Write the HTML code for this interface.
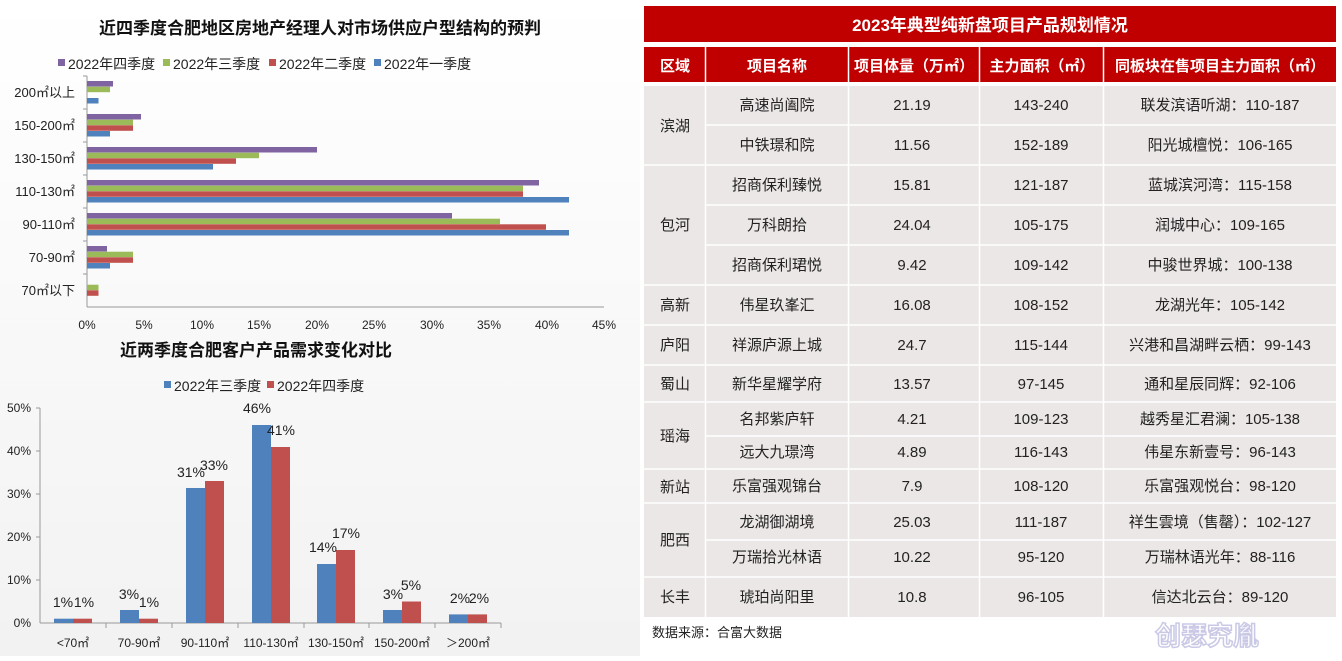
<!DOCTYPE html>
<html><head><meta charset="utf-8"><style>
body{margin:0;width:1342px;height:656px;background:#fff;overflow:hidden;font-family:"Liberation Sans","Noto Sans CJK SC",sans-serif;}
svg text{font-family:"Liberation Sans","Noto Sans CJK SC",sans-serif;}
</style></head><body>
<svg width="1342" height="656" viewBox="0 0 1342 656" xmlns="http://www.w3.org/2000/svg">
<defs><linearGradient id="bg" x1="0" y1="0" x2="0" y2="1"><stop offset="0" stop-color="#ffffff"/><stop offset="1" stop-color="#f2f2f2"/></linearGradient></defs>
<rect x="0" y="0" width="640" height="656" fill="url(#bg)"/>
<text x="320" y="34" text-anchor="middle" font-size="17" font-weight="bold" fill="#111">近四季度合肥地区房地产经理人对市场供应户型结构的预判</text>
<g font-size="14" fill="#222">
<rect x="58" y="59" width="7" height="7" fill="#8064a2"/><text x="68" y="69">2022年四季度</text>
<rect x="163" y="59" width="7" height="7" fill="#9bbb59"/><text x="173" y="69">2022年三季度</text>
<rect x="269" y="59" width="7" height="7" fill="#c0504d"/><text x="279" y="69">2022年二季度</text>
<rect x="374" y="59" width="7" height="7" fill="#4f81bd"/><text x="384" y="69">2022年一季度</text>
</g>
<line x1="87" y1="76" x2="87" y2="307" stroke="#999"/>
<line x1="87" y1="307" x2="604" y2="307" stroke="#999"/>
<g stroke="#999">
<line x1="83" y1="76" x2="87" y2="76"/><line x1="83" y1="109" x2="87" y2="109"/><line x1="83" y1="142" x2="87" y2="142"/><line x1="83" y1="175" x2="87" y2="175"/><line x1="83" y1="208" x2="87" y2="208"/><line x1="83" y1="241" x2="87" y2="241"/><line x1="83" y1="274" x2="87" y2="274"/>
</g>
<g font-size="13" fill="#222" text-anchor="end">
<text x="75" y="97">200㎡以上</text><text x="75" y="130">150-200㎡</text><text x="75" y="163">130-150㎡</text><text x="75" y="196">110-130㎡</text><text x="75" y="229">90-110㎡</text><text x="75" y="262">70-90㎡</text><text x="75" y="295">70㎡以下</text>
</g>
<g font-size="12" fill="#222" text-anchor="middle">
<text x="87" y="329">0%</text><text x="144" y="329">5%</text><text x="202" y="329">10%</text><text x="259" y="329">15%</text><text x="317" y="329">20%</text><text x="374" y="329">25%</text><text x="432" y="329">30%</text><text x="489" y="329">35%</text><text x="547" y="329">40%</text><text x="604" y="329">45%</text>
</g>
<g>
<rect x="87" y="81" width="26" height="5.5" fill="#8064a2"/><rect x="87" y="86.7" width="23" height="5.5" fill="#9bbb59"/><rect x="87" y="98" width="11.5" height="5.5" fill="#4f81bd"/>
<rect x="87" y="114" width="54" height="5.5" fill="#8064a2"/><rect x="87" y="119.7" width="46" height="5.5" fill="#9bbb59"/><rect x="87" y="125.3" width="46" height="5.5" fill="#c0504d"/><rect x="87" y="131" width="23" height="5.5" fill="#4f81bd"/>
<rect x="87" y="147" width="230" height="5.5" fill="#8064a2"/><rect x="87" y="152.7" width="172" height="5.5" fill="#9bbb59"/><rect x="87" y="158.3" width="149" height="5.5" fill="#c0504d"/><rect x="87" y="164" width="126" height="5.5" fill="#4f81bd"/>
<rect x="87" y="180" width="452" height="5.5" fill="#8064a2"/><rect x="87" y="185.7" width="436" height="5.5" fill="#9bbb59"/><rect x="87" y="191.3" width="436" height="5.5" fill="#c0504d"/><rect x="87" y="197" width="482" height="5.5" fill="#4f81bd"/>
<rect x="87" y="213" width="365" height="5.5" fill="#8064a2"/><rect x="87" y="218.7" width="413" height="5.5" fill="#9bbb59"/><rect x="87" y="224.3" width="459" height="5.5" fill="#c0504d"/><rect x="87" y="230" width="482" height="5.5" fill="#4f81bd"/>
<rect x="87" y="246" width="20" height="5.5" fill="#8064a2"/><rect x="87" y="251.7" width="46" height="5.5" fill="#9bbb59"/><rect x="87" y="257.3" width="46" height="5.5" fill="#c0504d"/><rect x="87" y="263" width="23" height="5.5" fill="#4f81bd"/>
<rect x="87" y="284.7" width="11.5" height="5.5" fill="#9bbb59"/><rect x="87" y="290.3" width="11.5" height="5.5" fill="#c0504d"/>
</g>
<text x="256" y="356" text-anchor="middle" font-size="17" font-weight="bold" fill="#111">近两季度合肥客户产品需求变化对比</text>
<g font-size="14" fill="#222">
<rect x="164" y="381" width="7" height="7" fill="#4f81bd"/><text x="174" y="391">2022年三季度</text>
<rect x="267" y="381" width="7" height="7" fill="#c0504d"/><text x="277" y="391">2022年四季度</text>
</g>
<line x1="40" y1="408" x2="40" y2="623" stroke="#999"/>
<line x1="40" y1="623" x2="501" y2="623" stroke="#999"/>
<g stroke="#999">
<line x1="36" y1="408" x2="40" y2="408"/><line x1="36" y1="451" x2="40" y2="451"/><line x1="36" y1="494" x2="40" y2="494"/><line x1="36" y1="537" x2="40" y2="537"/><line x1="36" y1="580" x2="40" y2="580"/>
<line x1="106" y1="623" x2="106" y2="628"/><line x1="172" y1="623" x2="172" y2="628"/><line x1="238" y1="623" x2="238" y2="628"/><line x1="304" y1="623" x2="304" y2="628"/><line x1="369" y1="623" x2="369" y2="628"/><line x1="435" y1="623" x2="435" y2="628"/><line x1="501" y1="623" x2="501" y2="628"/>
</g>
<g font-size="12" fill="#222" text-anchor="end">
<text x="31" y="412">50%</text><text x="31" y="455">40%</text><text x="31" y="498">30%</text><text x="31" y="541">20%</text><text x="31" y="584">10%</text><text x="31" y="627">0%</text>
</g>
<g font-size="12" fill="#222" text-anchor="middle">
<text x="73" y="647">&lt;70㎡</text><text x="139" y="647">70-90㎡</text><text x="205" y="647">90-110㎡</text><text x="271" y="647">110-130㎡</text><text x="336" y="647">130-150㎡</text><text x="402" y="647">150-200㎡</text><text x="468" y="647">＞200㎡</text>
</g>
<g>
<rect x="54" y="618.7" width="19" height="4.3" fill="#4f81bd"/><rect x="73" y="618.7" width="19" height="4.3" fill="#c0504d"/>
<rect x="120" y="610" width="19" height="13" fill="#4f81bd"/><rect x="139" y="618.7" width="19" height="4.3" fill="#c0504d"/>
<rect x="186" y="488" width="19" height="135" fill="#4f81bd"/><rect x="205" y="481" width="19" height="142" fill="#c0504d"/>
<rect x="252" y="425" width="19" height="198" fill="#4f81bd"/><rect x="271" y="447" width="19" height="176" fill="#c0504d"/>
<rect x="317" y="564" width="19" height="59" fill="#4f81bd"/><rect x="336" y="550" width="19" height="73" fill="#c0504d"/>
<rect x="383" y="610" width="19" height="13" fill="#4f81bd"/><rect x="402" y="601.5" width="19" height="21.5" fill="#c0504d"/>
<rect x="449" y="614.4" width="19" height="8.6" fill="#4f81bd"/><rect x="468" y="614.4" width="19" height="8.6" fill="#c0504d"/>
</g>
<g font-size="14" fill="#222" text-anchor="middle">
<text x="63" y="607">1%</text><text x="84" y="607">1%</text>
<text x="129" y="599">3%</text><text x="149" y="607">1%</text>
<text x="191" y="477">31%</text><text x="214" y="470">33%</text>
<text x="257" y="413">46%</text><text x="281" y="435">41%</text>
<text x="323" y="552">14%</text><text x="346" y="538">17%</text>
<text x="393" y="599">3%</text><text x="411" y="590">5%</text>
<text x="460" y="603">2%</text><text x="479" y="603">2%</text>
</g>
<rect x="644" y="6" width="692" height="36" fill="#c00000"/>
<text x="990" y="31" text-anchor="middle" font-size="17" font-weight="bold" fill="#fff">2023年典型纯新盘项目产品规划情况</text>
<rect x="644" y="47" width="692" height="35" fill="#c00000"/>
<g stroke="#fff" stroke-width="1.5"><line x1="705.5" y1="47" x2="705.5" y2="82"/><line x1="848.5" y1="47" x2="848.5" y2="82"/><line x1="979.5" y1="47" x2="979.5" y2="82"/><line x1="1103.5" y1="47" x2="1103.5" y2="82"/></g>
<g font-size="15" font-weight="bold" fill="#fff" text-anchor="middle">
<text x="675" y="71">区域</text><text x="777" y="71">项目名称</text><text x="914" y="71">项目体量（万㎡）</text><text x="1042" y="71">主力面积（㎡）</text><text x="1220" y="71">同板块在售项目主力面积（㎡）</text>
</g>
<rect x="644" y="86" width="692" height="531" fill="#ece7e7"/>
<g stroke="#fff" stroke-width="1.5">
<line x1="705.5" y1="86" x2="705.5" y2="617"/><line x1="848.5" y1="86" x2="848.5" y2="617"/><line x1="979.5" y1="86" x2="979.5" y2="617"/><line x1="1103.5" y1="86" x2="1103.5" y2="617"/>
<line x1="706" y1="125" x2="1336" y2="125"/><line x1="644" y1="165" x2="1336" y2="165"/><line x1="706" y1="205" x2="1336" y2="205"/><line x1="706" y1="245" x2="1336" y2="245"/>
<line x1="644" y1="285" x2="1336" y2="285"/><line x1="644" y1="325" x2="1336" y2="325"/><line x1="644" y1="365" x2="1336" y2="365"/><line x1="644" y1="402" x2="1336" y2="402"/>
<line x1="706" y1="436" x2="1336" y2="436"/><line x1="644" y1="469" x2="1336" y2="469"/><line x1="644" y1="503" x2="1336" y2="503"/><line x1="706" y1="540" x2="1336" y2="540"/><line x1="644" y1="577" x2="1336" y2="577"/>
</g>
<g font-size="15" fill="#222" text-anchor="middle">
<text x="675" y="131">滨湖</text><text x="675" y="230">包河</text><text x="675" y="310">高新</text><text x="675" y="350">庐阳</text><text x="675" y="389">蜀山</text><text x="675" y="441">瑶海</text><text x="675" y="492">新站</text><text x="675" y="545">肥西</text><text x="675" y="602">长丰</text>
</g>
<g font-size="15" fill="#222" text-anchor="middle">
<text x="777" y="110">高速尚阖院</text><text x="912" y="110">21.19</text><text x="1041" y="110">143-240</text><text x="1220" y="110">联发滨语听湖：110-187</text>
<text x="777" y="150">中铁璟和院</text><text x="912" y="150">11.56</text><text x="1041" y="150">152-189</text><text x="1220" y="150">阳光城檀悦：106-165</text>
<text x="777" y="190">招商保利臻悦</text><text x="912" y="190">15.81</text><text x="1041" y="190">121-187</text><text x="1220" y="190">蓝城滨河湾：115-158</text>
<text x="777" y="230">万科朗拾</text><text x="912" y="230">24.04</text><text x="1041" y="230">105-175</text><text x="1220" y="230">润城中心：109-165</text>
<text x="777" y="270">招商保利珺悦</text><text x="912" y="270">9.42</text><text x="1041" y="270">109-142</text><text x="1220" y="270">中骏世界城：100-138</text>
<text x="777" y="310">伟星玖峯汇</text><text x="912" y="310">16.08</text><text x="1041" y="310">108-152</text><text x="1220" y="310">龙湖光年：105-142</text>
<text x="777" y="350">祥源庐源上城</text><text x="912" y="350">24.7</text><text x="1041" y="350">115-144</text><text x="1220" y="350">兴港和昌湖畔云栖：99-143</text>
<text x="777" y="389">新华星耀学府</text><text x="912" y="389">13.57</text><text x="1041" y="389">97-145</text><text x="1220" y="389">通和星辰同辉：92-106</text>
<text x="777" y="424">名邦紫庐轩</text><text x="912" y="424">4.21</text><text x="1041" y="424">109-123</text><text x="1220" y="424">越秀星汇君澜：105-138</text>
<text x="777" y="457">远大九璟湾</text><text x="912" y="457">4.89</text><text x="1041" y="457">116-143</text><text x="1220" y="457">伟星东新壹号：96-143</text>
<text x="777" y="491">乐富强观锦台</text><text x="912" y="491">7.9</text><text x="1041" y="491">108-120</text><text x="1220" y="491">乐富强观悦台：98-120</text>
<text x="777" y="527">龙湖御湖境</text><text x="912" y="527">25.03</text><text x="1041" y="527">111-187</text><text x="1220" y="527">祥生雲境（售罄）：102-127</text>
<text x="777" y="562">万瑞拾光林语</text><text x="912" y="562">10.22</text><text x="1041" y="562">95-120</text><text x="1220" y="562">万瑞林语光年：88-116</text>
<text x="777" y="602">琥珀尚阳里</text><text x="912" y="602">10.8</text><text x="1041" y="602">96-105</text><text x="1220" y="602">信达北云台：89-120</text>
</g>
<text x="652" y="637" font-size="13" fill="#222">数据来源：合富大数据</text>
<text x="1155" y="645" font-size="26" font-weight="bold" fill="none" stroke="#c9c9e6" stroke-width="1.5">创瑟究胤</text>
</svg>
</body></html>
